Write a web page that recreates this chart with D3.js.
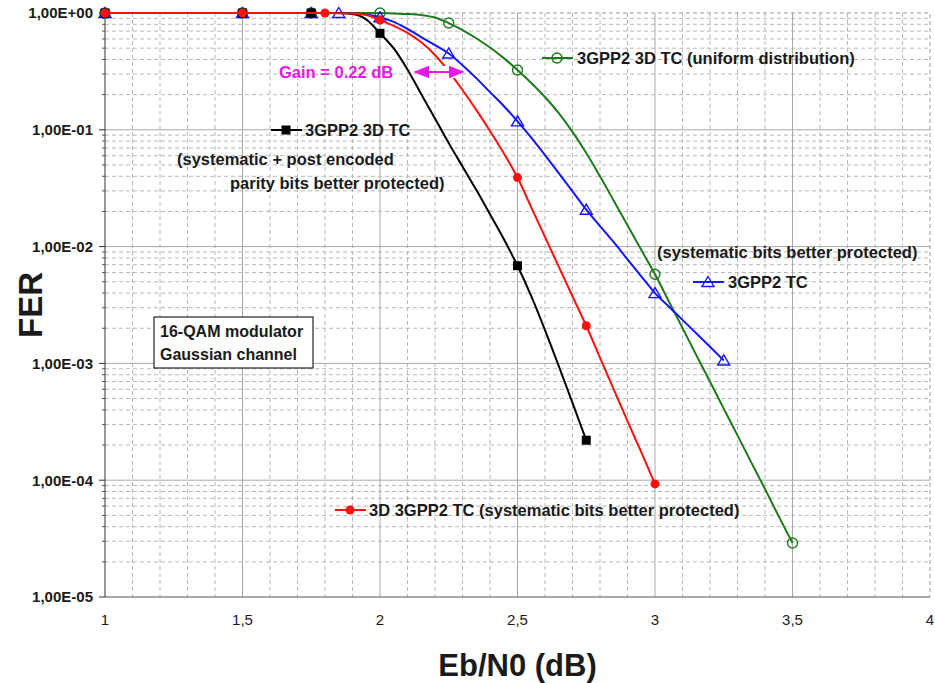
<!DOCTYPE html>
<html>
<head>
<meta charset="utf-8">
<script src="https://cdn.jsdelivr.net/npm/d3@7"></script>
<style>
  body { margin: 0; background: #fff; }
  svg { display: block; font-family: "Liberation Sans", Arial, sans-serif; }
</style>
</head>
<body>
<script>
// 3GPP2 3D TC (systematic + post encoded parity bits better protected)
const blackX = [1, 1.5, 1.75, 1.85, 1.9, 1.95, 2, 2.05, 2.1, 2.15, 2.2, 2.25, 2.3, 2.35, 2.4, 2.45, 2.5, 2.55, 2.6, 2.65, 2.7, 2.75];
const blackFER = [1, 1, 1, 1, 0.98, 0.88, 0.67, 0.497, 0.328, 0.202, 0.125, 0.0769, 0.0485, 0.0306, 0.0189, 0.0116, 0.00686, 0.00377, 0.00193, 0.00095, 0.00046, 0.00022];
const blackMarks = [1, 1.5, 1.75, 2, 2.5, 2.75];

// 3D 3GPP2 TC (systematic bits better protected)
const redX = [1, 1.5, 1.8, 1.9, 1.95, 2, 2.05, 2.1, 2.15, 2.2, 2.25, 2.3, 2.35, 2.4, 2.45, 2.5, 2.55, 2.6, 2.65, 2.7, 2.75, 2.8, 2.85, 2.9, 2.95, 3];
const redFER = [1, 1, 1, 0.99, 0.96, 0.87, 0.776, 0.676, 0.562, 0.437, 0.316, 0.219, 0.148, 0.0977, 0.063, 0.039, 0.0217, 0.0121, 0.00674, 0.00376, 0.0021, 0.00112, 0.0006, 0.00032, 0.000174, 0.000093];
const redMarks = [1, 1.5, 1.8, 2, 2.5, 2.75, 3];

// 3GPP2 TC
const blueX = [1, 1.5, 1.75, 1.85, 1.9, 1.95, 2, 2.05, 2.1, 2.15, 2.2, 2.25, 2.3, 2.35, 2.4, 2.45, 2.5, 2.55, 2.6, 2.65, 2.7, 2.75, 2.8, 2.85, 2.9, 2.95, 3, 3.05, 3.1, 3.15, 3.2, 3.25];
const blueFER = [1, 1, 1, 1, 0.995, 0.97, 0.92, 0.84, 0.731, 0.622, 0.53, 0.45, 0.357, 0.277, 0.21, 0.16, 0.118, 0.0857, 0.0607, 0.0425, 0.0297, 0.0207, 0.015, 0.0109, 0.00778, 0.00557, 0.004, 0.00307, 0.00236, 0.00181, 0.00139, 0.00106];
const blueMarks = [1, 1.5, 1.75, 1.85, 2, 2.25, 2.5, 2.75, 3, 3.25];

// 3GPP2 3D TC (uniform distribution)
const greenX = [1, 1.5, 1.75, 2, 2.05, 2.1, 2.15, 2.2, 2.25, 2.3, 2.35, 2.4, 2.45, 2.5, 2.55, 2.6, 2.65, 2.7, 2.75, 2.8, 2.85, 2.9, 2.95, 3, 3.05, 3.1, 3.15, 3.2, 3.25, 3.3, 3.35, 3.4, 3.45, 3.5];
const greenFER = [1, 1, 1, 1, 0.99, 0.98, 0.96, 0.915, 0.82, 0.715, 0.608, 0.506, 0.411, 0.325, 0.252, 0.191, 0.139, 0.096, 0.0634, 0.04, 0.0247, 0.0152, 0.00938, 0.00579, 0.00341, 0.00201, 0.00118, 0.000697, 0.00041, 0.000242, 0.000142, 0.000084, 0.000049, 0.000029];
const greenMarks = [1, 1.5, 1.75, 2, 2.25, 2.5, 3, 3.5];

const xTicks = [1, 1.5, 2, 2.5, 3, 3.5, 4];
const yTicks = [1, 1e-1, 1e-2, 1e-3, 1e-4, 1e-5];

const width = 935, height = 683;
const mLeft = 105, mRight = 930, mTop = 13, mBottom = 597;
const ink = "#1a1a1a";

const x = d3.scaleLinear().domain([1, 4]).range([mLeft, mRight]);
const y = d3.scaleLog().domain([1e-5, 1]).range([mBottom, mTop]);

const svg = d3.create("svg")
  .attr("width", width)
  .attr("height", height)
  .attr("viewBox", [0, 0, width, height]);

// Grid: minor dashed, major solid
const grid = svg.append("g");
const vMinor = d3.range(11, 40).filter((i) => i % 5 !== 0).map((i) => i / 10);
const vMajor = [1.5, 2, 2.5, 3, 3.5];
const hMinor = [];
for (let e = -5; e < 0; e++) for (let m = 2; m <= 9; m++) hMinor.push(m * Math.pow(10, e));
const hMajor = [1e-1, 1e-2, 1e-3, 1e-4];

grid.selectAll(".vmin").data(vMinor).join("line")
  .attr("x1", (d) => x(d)).attr("x2", (d) => x(d))
  .attr("y1", mTop).attr("y2", mBottom)
  .attr("stroke", "#b8b8b8").attr("stroke-dasharray", "4,3");
grid.selectAll(".hmin").data(hMinor).join("line")
  .attr("x1", mLeft).attr("x2", mRight)
  .attr("y1", (d) => y(d)).attr("y2", (d) => y(d))
  .attr("stroke", "#b8b8b8").attr("stroke-dasharray", "4,3");
grid.selectAll(".vmaj").data(vMajor).join("line")
  .attr("x1", (d) => x(d)).attr("x2", (d) => x(d))
  .attr("y1", mTop).attr("y2", mBottom)
  .attr("stroke", "#a8a8a8");
grid.selectAll(".hmaj").data(hMajor).join("line")
  .attr("x1", mLeft).attr("x2", mRight)
  .attr("y1", (d) => y(d)).attr("y2", (d) => y(d))
  .attr("stroke", "#a8a8a8");
// dashed border top / right
grid.append("path")
  .attr("d", `M${mLeft},${y(1)}H${x(4)}V${mBottom}`)
  .attr("fill", "none").attr("stroke", "#999").attr("stroke-dasharray", "4,3");

// Axes
const axes = svg.append("g");
axes.append("line").attr("x1", mLeft).attr("x2", mLeft).attr("y1", mTop).attr("y2", mBottom).attr("stroke", "#333");
axes.append("line").attr("x1", mLeft).attr("x2", mRight).attr("y1", mBottom).attr("y2", mBottom).attr("stroke", "#555");

axes.selectAll(".ymt").data(hMinor).join("line")
  .attr("x1", mLeft - 3).attr("x2", mLeft)
  .attr("y1", (d) => y(d)).attr("y2", (d) => y(d)).attr("stroke", "#555");
axes.selectAll(".yt").data(yTicks).join("line")
  .attr("x1", mLeft - 6).attr("x2", mLeft)
  .attr("y1", (d) => y(d)).attr("y2", (d) => y(d)).attr("stroke", "#333");

const fmtY = (d) => {
  const e = Math.round(Math.log10(d));
  return "1,00E" + (e >= 0 ? "+" : "-") + String(Math.abs(e)).padStart(2, "0");
};
axes.selectAll(".yl").data(yTicks).join("text")
  .attr("x", 93).attr("y", (d) => y(d)).attr("dy", "0.36em")
  .attr("text-anchor", "end").attr("font-size", 15).attr("font-weight", "bold")
  .attr("fill", ink).text(fmtY);

axes.selectAll(".xl").data(xTicks).join("text")
  .attr("x", (d) => x(d)).attr("y", 620).attr("dy", "0.36em")
  .attr("text-anchor", "middle").attr("font-size", 15)
  .attr("fill", ink).text((d) => String(d).replace(".", ","));

svg.append("text")
  .attr("transform", `translate(42, ${(mTop + mBottom) / 2}) rotate(-90)`)
  .attr("text-anchor", "middle").attr("font-size", 33).attr("font-weight", "bold")
  .attr("fill", ink).text("FER");

svg.append("text")
  .attr("x", x(2.5)).attr("y", 665).attr("dy", "0.36em")
  .attr("text-anchor", "middle").attr("font-size", 31).attr("font-weight", "bold")
  .attr("fill", ink).text("Eb/N0 (dB)");

// Series
const line = d3.line()
  .x((d) => x(d[0]))
  .y((d) => y(d[1]))
  .curve(d3.curveMonotoneX);

const triangle = "M0,-5.5L6,4.5L-6,4.5Z";

function drawMarker(g, shape, color, cx, cy) {
  if (shape === "square") {
    g.append("rect").attr("x", cx - 4.5).attr("y", cy - 4.5).attr("width", 9).attr("height", 9).attr("fill", color);
  } else if (shape === "dot") {
    g.append("circle").attr("cx", cx).attr("cy", cy).attr("r", 4.5).attr("fill", color);
  } else if (shape === "triangle") {
    g.append("path").attr("d", triangle).attr("transform", `translate(${cx},${cy})`)
      .attr("fill", "none").attr("stroke", color).attr("stroke-width", 1.4);
  } else {
    g.append("circle").attr("cx", cx).attr("cy", cy).attr("r", 5)
      .attr("fill", "none").attr("stroke", color).attr("stroke-width", 1.4);
  }
}

const series = [
  { xs: greenX, fer: greenFER, marks: greenMarks, color: "#1d7a1d", shape: "circle" },
  { xs: blueX, fer: blueFER, marks: blueMarks, color: "#1414ff", shape: "triangle" },
  { xs: blackX, fer: blackFER, marks: blackMarks, color: "#000000", shape: "square" },
  { xs: redX, fer: redFER, marks: redMarks, color: "#ff1010", shape: "dot" },
];

series.forEach((s) => {
  const pts = s.xs.map((v, i) => [v, s.fer[i]]);
  const g = svg.append("g");
  g.append("path").datum(pts)
    .attr("fill", "none").attr("stroke", s.color).attr("stroke-width", 2).attr("d", line);
  s.marks.forEach((m) => {
    const p = pts.find((d) => d[0] === m);
    drawMarker(g, s.shape, s.color, x(p[0]), y(p[1]));
  });
});

// Gain annotation (white text-box fill breaks the red curve)
const magenta = "#e619e6";
svg.append("rect").attr("x", 440).attr("y", 66).attr("width", 20).attr("height", 12).attr("fill", "#fff");
svg.append("defs").append("marker")
  .attr("id", "ah").attr("viewBox", "0 0 10 10").attr("refX", 9).attr("refY", 5)
  .attr("markerWidth", 8).attr("markerHeight", 8).attr("orient", "auto-start-reverse")
  .append("path").attr("d", "M0,1L10,5L0,9Z").attr("fill", magenta);
svg.append("line")
  .attr("x1", 415).attr("x2", 463).attr("y1", 72).attr("y2", 72)
  .attr("stroke", magenta).attr("stroke-width", 2)
  .attr("marker-start", "url(#ah)").attr("marker-end", "url(#ah)");
svg.append("text").attr("x", 279).attr("y", 72).attr("dy", "0.36em")
  .attr("font-size", 16.5).attr("font-weight", "bold").attr("fill", magenta)
  .text("Gain = 0.22 dB");

// Legend labels placed inside the plot
const leg = svg.append("g").attr("font-size", 16.5).attr("font-weight", "bold").attr("fill", ink);
function legendKey(lx, ly, s) {
  leg.append("line").attr("x1", lx).attr("x2", lx + 31).attr("y1", ly).attr("y2", ly)
    .attr("stroke", s.color).attr("stroke-width", 2);
  drawMarker(leg, s.shape, s.color, lx + 15, ly);
}
function label(tx, ty, t) {
  leg.append("text").attr("x", tx).attr("y", ty).attr("dy", "0.36em").text(t);
}

legendKey(542, 58, series[0]);
label(577, 58, "3GPP2 3D TC (uniform distribution)");

legendKey(271, 130, series[2]);
label(305, 130, "3GPP2 3D TC");
label(177, 159, "(systematic + post encoded");
label(230, 183, "parity bits better protected)");

label(657, 252, "(systematic bits better protected)");
legendKey(693, 282, series[1]);
label(728, 282, "3GPP2 TC");

legendKey(335, 510, series[3]);
label(369, 510, "3D 3GPP2 TC (systematic bits better protected)");

// Simulation settings box
const box = svg.append("g");
box.append("rect").attr("x", 154).attr("y", 317).attr("width", 159).attr("height", 51)
  .attr("fill", "#fff").attr("stroke", "#222").attr("stroke-width", 1.2);
box.append("text").attr("x", 160).attr("y", 331).attr("dy", "0.36em")
  .attr("font-size", 16).attr("font-weight", "bold").attr("fill", ink).text("16-QAM modulator");
box.append("text").attr("x", 160).attr("y", 354).attr("dy", "0.36em")
  .attr("font-size", 16).attr("font-weight", "bold").attr("fill", ink).text("Gaussian channel");

document.body.appendChild(svg.node());
</script>
</body>
</html>
